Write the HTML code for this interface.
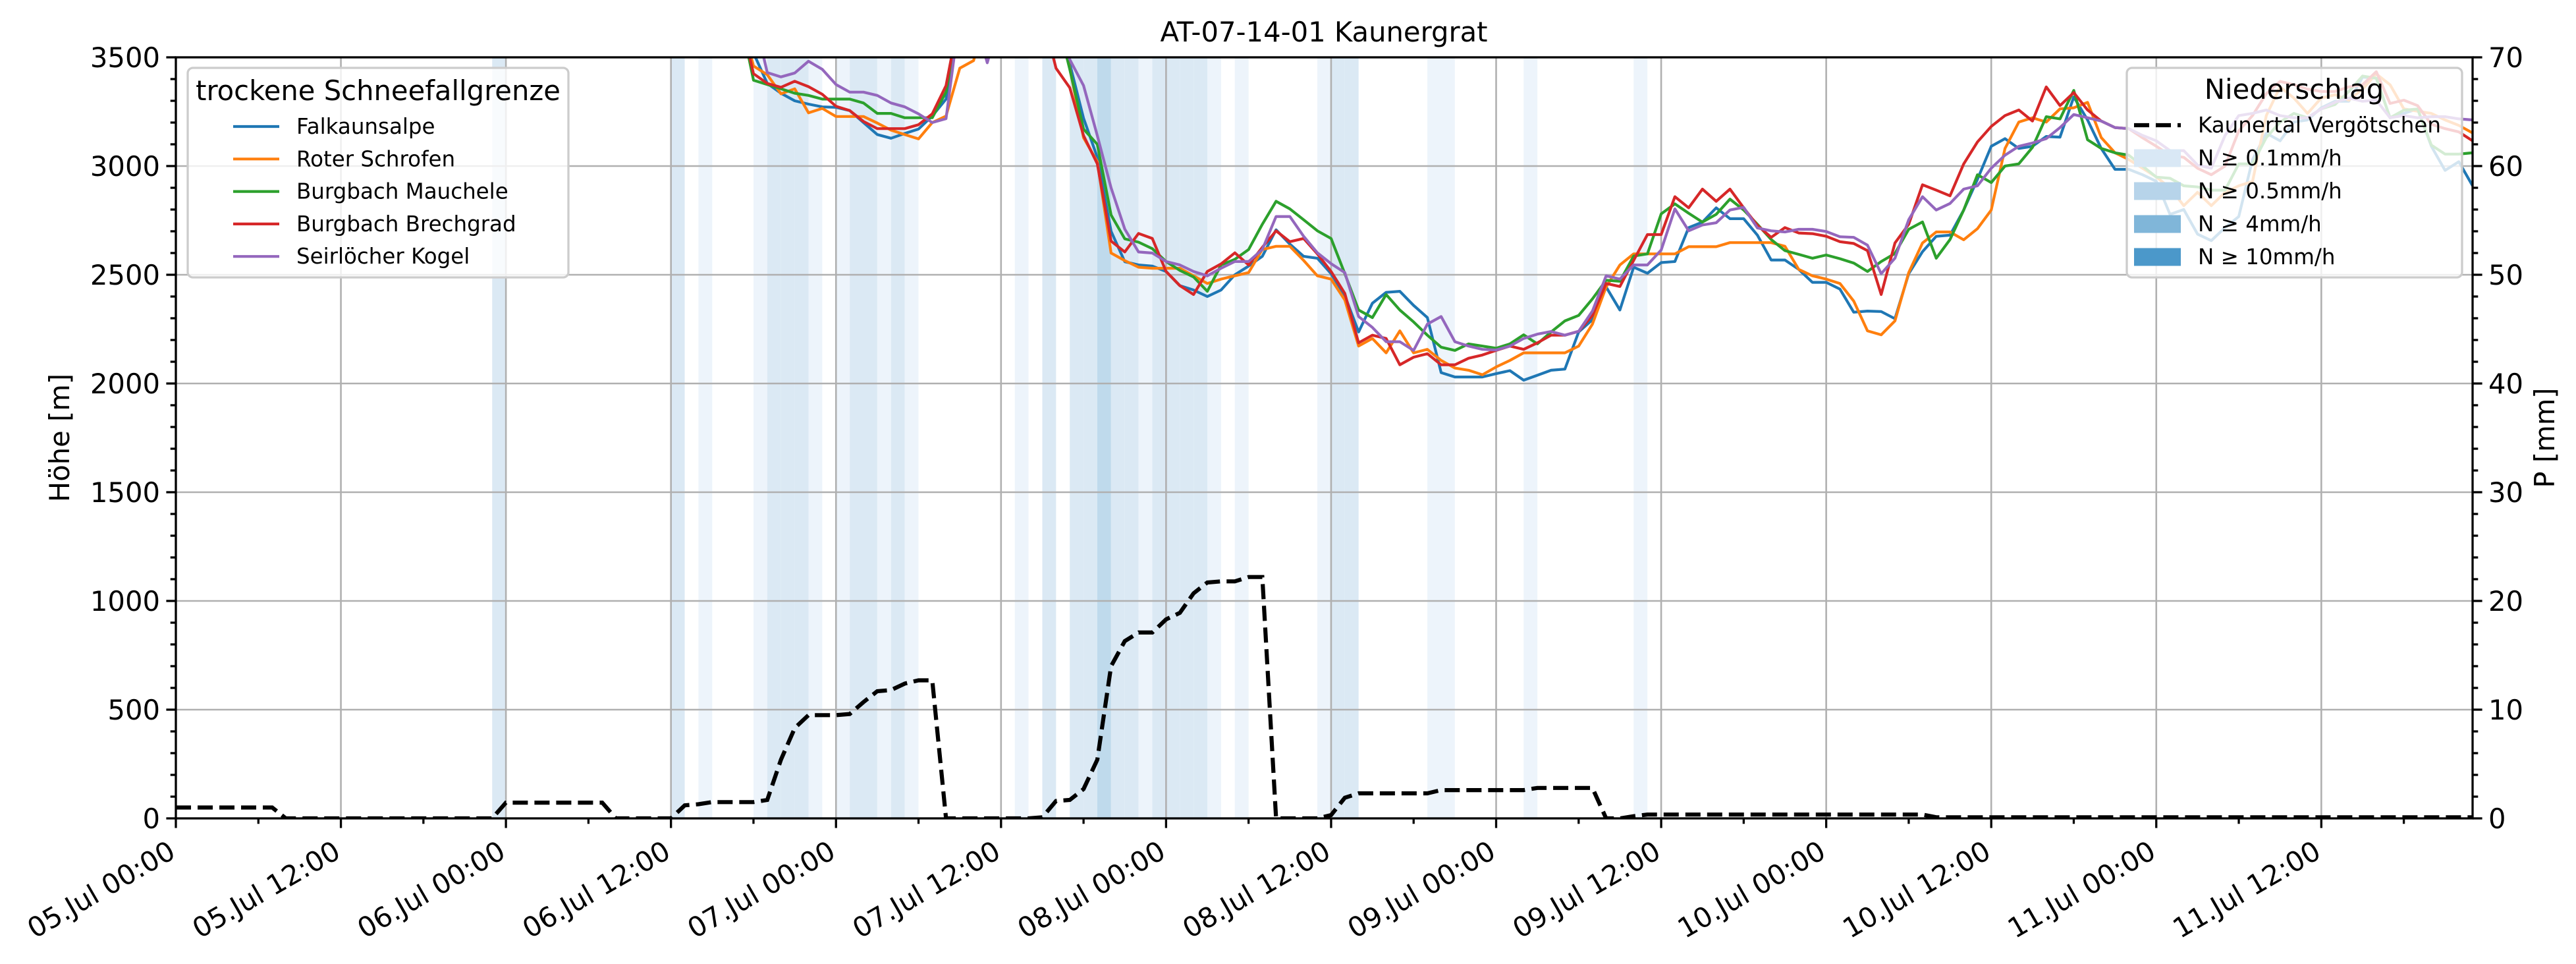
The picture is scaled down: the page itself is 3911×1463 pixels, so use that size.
<!DOCTYPE html>
<html><head><meta charset="utf-8"><title>AT-07-14-01 Kaunergrat</title>
<style>html,body{margin:0;padding:0;background:#fff}svg{display:block}text{font-family:"DejaVu Sans","Liberation Sans",sans-serif}</style>
</head><body>
<svg id="chart" xmlns="http://www.w3.org/2000/svg" width="3911" height="1463" viewBox="0 0 3911 1463">
<rect width="3911" height="1463" fill="#fff"/>
<defs><clipPath id="plotclip"><rect x="267" y="87" width="3487" height="1155"/></clipPath></defs>
<g id="bands" clip-path="url(#plotclip)"></g>
<g id="grid"></g>
<g id="series" clip-path="url(#plotclip)"></g>
<g id="precip" clip-path="url(#plotclip)"></g>
<g id="axes"></g>
<text x="2010" y="63" font-size="41.7" text-anchor="middle">AT-07-14-01 Kaunergrat</text>
<text transform="translate(105,664.5) rotate(-90)" font-size="41.7" text-anchor="middle">Höhe [m]</text>
<text transform="translate(3878,664.5) rotate(-90)" font-size="41.7" text-anchor="middle">P [mm]</text>
<g id="legend1"></g>
<g id="legend2"></g>
</svg>
<script>
// ---- data ----
const startHour = 41; // series arrays begin at this hour (hourly values)
const falkaunsalpe = [3700,3520,3380,3335,3300,3285,3272,3270,3255,3200,3145,3128,3150,3170,3230,3308,
3700,3700,3700,3700,3700,3700,3700,3600,
3470,3220,3040,2700,2560,2545,2540,2515,2450,2430,2400,2430,2500,2540,2585,2707,2641,2585,2576,2505,2404,2237,2369,2419,2424,2359,2303,2050,2030,
2030,2030,2045,2059,2015,2038,2061,2066,2237,2293,2444,2338,2535,2507,2556,2561,2717,2742,2808,2758,2758,2682,2568,2568,2525,2465,2465,2434,2328,2333,2331,2298,2505,
2606,2677,2682,2798,2939,3091,3126,3081,3091,3136,3133,3318,3212,3081,2985,2985,2960,2930,2778,2800,2687,2657,2717,2768,3030,3151,3116,3202,3212,3268,3298,3298,3409,3404,3222,3242,3263,3091,2980,3020,2909];
const roterSchrofen = [3700,3460,3420,3332,3355,3245,3265,3228,3228,3228,3198,3165,3145,3125,3200,3230,
3450,3485,3700,3700,3700,3700,3700,3700,
3450,3130,3020,2600,2565,2535,2530,2530,2530,2495,2460,2480,2495,2510,2616,2631,2631,2566,2495,2480,2384,2172,2207,2141,2242,2141,2157,2106,2071,
2061,2040,2076,2106,2141,2141,2141,2141,2172,2273,2444,2545,2596,2596,2596,2596,2629,2629,2629,2648,2648,2648,2648,2631,2525,2495,2480,2460,2379,2242,2224,2288,2510,
2646,2697,2697,2661,2712,2798,3081,3202,3222,3202,3263,3268,3293,3131,3061,3030,2990,2950,2899,2818,2879,2818,2879,2909,2929,3232,3364,3313,3242,3313,3328,3303,3354,3424,3374,3263,3252,3242,3212,3187,3152];
const burgbachMauchele = [3700,3395,3375,3355,3335,3325,3308,3308,3308,3290,3242,3242,3222,3222,3222,3340,
3700,3700,3700,3700,3700,3700,3700,3700,
3445,3170,3100,2775,2665,2650,2620,2561,2520,2490,2424,2545,2571,2616,2732,2838,2803,2753,2702,2667,2505,2338,2303,2409,2338,2283,2222,2167,2152,
2182,2172,2162,2182,2224,2182,2237,2288,2313,2389,2475,2470,2586,2596,2780,2826,2783,2742,2778,2848,2798,2732,2662,2611,2594,2576,2591,2574,2554,2515,2561,2598,2709,
2743,2576,2662,2798,2960,2924,3000,3010,3086,3227,3217,3348,3121,3081,3061,3050,3000,2949,2944,2909,2904,2889,2889,3010,3010,3131,3202,3242,3222,3263,3283,3343,3414,3404,3222,3257,3262,3096,3055,3055,3061];
const burgbachBrechgrad = [3700,3425,3380,3362,3390,3365,3330,3275,3255,3205,3172,3172,3172,3190,3240,3370,
3700,3700,3700,3700,3700,3700,3700,3450,
3360,3140,3010,2655,2605,2690,2667,2515,2450,2409,2515,2550,2601,2545,2626,2702,2652,2667,2596,2515,2414,2187,2222,2207,2086,2121,2137,2086,2086,
2116,2131,2152,2172,2157,2187,2222,2222,2240,2313,2460,2446,2566,2685,2685,2859,2808,2894,2838,2894,2808,2727,2672,2717,2692,2689,2677,2652,2644,2611,2409,2646,2732,
2914,2889,2863,3010,3111,3182,3232,3258,3207,3364,3278,3338,3258,3207,3177,3172,3130,3091,3050,3040,2990,2960,3000,3162,3232,3333,3389,3374,3354,3343,3343,3364,3374,3434,3288,3303,3278,3192,3172,3157,3116];
const seirloecherKogel = [3700,3700,3430,3410,3428,3482,3445,3375,3340,3340,3325,3290,3272,3240,3200,3218,
3700,3700,3475,3700,3700,3700,3700,3700,
3490,3370,3140,2900,2710,2605,2600,2561,2545,2515,2495,2530,2561,2561,2616,2768,2768,2677,2601,2551,2510,2308,2258,2192,2192,2152,2273,2308,2192,
2172,2157,2154,2172,2207,2227,2239,2222,2240,2333,2495,2480,2545,2545,2614,2803,2702,2729,2739,2798,2810,2715,2702,2697,2709,2709,2699,2675,2672,2636,2505,2576,2753,
2859,2798,2828,2894,2909,2990,3050,3091,3106,3126,3177,3237,3222,3207,3177,3172,3141,3116,3071,3071,3005,2990,3141,3232,3242,3258,3232,3222,3222,3263,3293,3313,3298,3303,3222,3232,3222,3227,3227,3217,3212];
// cumulative precipitation Kaunertal Vergötschen [mm], hours 0..167
const precip = [1,1,1,1,1,1,1,1, 0,0,0,0,0,0,0,0,0,0,0,0,0,0,0,0, 1.45,1.45,1.45,1.45,1.45,1.45,1.45,1.45, 0,0,0,0,
0,1.2,1.3,1.5,1.5,1.5,1.5,1.7,5.4,8.3,9.5,9.5,9.5,9.6,10.7,11.7,11.8,12.4,12.7,12.7,
0,0,0,0,0,0,0,
0.1,1.6,1.7,2.7,5.4,14,16.3,17.1,17.1,18.3,18.9,20.7,21.7,21.8,21.8,22.2,
22.2,0,0,0,0, 0.3,1.9,2.3, 2.3,2.3,2.3,2.3,2.3, 2.6,2.6,2.6,2.6,2.6,2.6,2.6, 2.8,2.8,2.8,2.8,2.8, 0,0,0.2,
0.35,0.35,0.35,0.35,0.35,0.35,0.35,0.35,0.35,0.35,0.35,0.35,0.35,0.35,0.35,0.35,0.35,0.35,0.35,0.35,0.35,
0.1,0.1,0.1,0.1,0.1,0.1,0.1,0.1,0.1,0.1,0.1,0.1,0.1,0.1,0.1,0.1,0.1,0.1,0.1,0.1,0.1,0.1,0.1,0.1,0.1,0.1,0.1,0.1,0.1,0.1,0.1,0.1,0.1,0.1,0.1,0.1,0.1,0.1,0.1,0.1];
// hourly intensity bands: hour and class (1: >=0.1, 2: >=0.5, 3: >=4 mm/h)
const bandHours = [23,36,38,42,43,44,45,46,48,49,50,51,52,53,61,63,65,66,67,68,69,70,71,72,73,74,75,77,83,84,85,91,92,98,106];
const bandClass = [2,2,1,1,2,2,2,1,1,2,2,1,2,1,1,2,2,2,3,2,2,1,2,2,2,2,1,1,1,2,2,1,1,1,1];
const xTickLabels = ["05.Jul 00:00","05.Jul 12:00","06.Jul 00:00","06.Jul 12:00","07.Jul 00:00","07.Jul 12:00","08.Jul 00:00","08.Jul 12:00","09.Jul 00:00","09.Jul 12:00","10.Jul 00:00","10.Jul 12:00","11.Jul 00:00","11.Jul 12:00"];
const yTicks = [0,500,1000,1500,2000,2500,3000,3500];
const y2Ticks = [0,10,20,30,40,50,60,70];
const seriesNames = ["Falkaunsalpe","Roter Schrofen","Burgbach Mauchele","Burgbach Brechgrad","Seirlöcher Kogel"];
const seriesColors = ["#1f77b4","#ff7f0e","#2ca02c","#d62728","#9467bd"];
const bandNames = ["N ≥ 0.1mm/h","N ≥ 0.5mm/h","N ≥ 4mm/h","N ≥ 10mm/h"];
const bandLegendColors = ["#d9e8f5","#b7d4ea","#80b6d9","#4b98ca"];
const bandColors = ["#edf4fb","#dbe9f4","#bfdaec","#a5cbe4"];

// ---- axes ----
const X0=267, X1=3754, Y0=1242, Y1=87, HMAX=167;
const xOf = h => X0 + h*(X1-X0)/HMAX;
const yL = v => Y0 - v*(Y0-Y1)/3500;
const yR = p => Y0 - p*(Y0-Y1)/70;
const NS="http://www.w3.org/2000/svg";
function mk(tag, attrs, parent){const e=document.createElementNS(NS,tag);for(const k in attrs)e.setAttribute(k,attrs[k]);parent.appendChild(e);return e;}

const gB=document.getElementById('bands');
bandHours.forEach((h,i)=>{
  const r=mk('rect',{x:xOf(h),y:Y1,width:xOf(h+1)-xOf(h),height:Y0-Y1,fill:bandColors[bandClass[i]-1]},gB);
  
  
});

const gG=document.getElementById('grid');
xTickLabels.forEach((t,i)=>{
  const l=mk('line',{x1:xOf(i*12),x2:xOf(i*12),y1:Y1,y2:Y0,stroke:'#b0b0b0','stroke-width':2.6},gG);
  
  
});
yTicks.forEach(v=>{
  const l=mk('line',{x1:X0,x2:X1,y1:yL(v),y2:yL(v),stroke:'#b0b0b0','stroke-width':2.6},gG);
  
  
});

const gS=document.getElementById('series');
[falkaunsalpe,roterSchrofen,burgbachMauchele,burgbachBrechgrad,seirloecherKogel].forEach((arr,si)=>{
  const pts=arr.map((v,i)=>xOf(startHour+i).toFixed(1)+','+yL(v).toFixed(1)).join(' ');
  const p=mk('polyline',{points:pts,fill:'none',stroke:seriesColors[si],'stroke-width':4.2,'stroke-linejoin':'round'},gS);
  
  
});

const gP=document.getElementById('precip');
const pp=mk('polyline',{points:precip.map((v,i)=>xOf(i).toFixed(1)+','+yR(v).toFixed(1)).join(' '),fill:'none',stroke:'#000','stroke-width':6.2,'stroke-dasharray':'23 10'},gP);



const gA=document.getElementById('axes');
mk('rect',{x:X0,y:Y1,width:X1-X0,height:Y0-Y1,fill:'none',stroke:'#000','stroke-width':3.3},gA);
for(let v=0;v<=3500;v+=100){
  const major=v%500===0;
  mk('line',{x1:X0,x2:X0-(major?14.6:8.3),y1:yL(v),y2:yL(v),stroke:'#000','stroke-width':3.3},gA);
}
for(let p=0;p<=70;p+=2){
  const major=p%10===0;
  mk('line',{x1:X1,x2:X1+(major?14.6:8.3),y1:yR(p),y2:yR(p),stroke:'#000','stroke-width':3.3},gA);
}
for(let h=0;h<=HMAX;h+=6){
  const major=h%12===0;
  mk('line',{x1:xOf(h),x2:xOf(h),y1:Y0,y2:Y0+(major?14.6:8.3),stroke:'#000','stroke-width':3.3},gA);
}
yTicks.forEach(v=>{
  const t=mk('text',{x:X0-24,y:yL(v)+15,'font-size':41.7,'text-anchor':'end'},gA);
  t.textContent=v;
  
  
});
y2Ticks.forEach(p=>{
  const t=mk('text',{x:X1+24,y:yR(p)+15,'font-size':41.7,'text-anchor':'start'},gA);
  t.textContent=p;
  
  
});
xTickLabels.forEach((s,i)=>{
  const x=xOf(i*12);
  const t=mk('text',{transform:'translate('+(x+2)+','+(Y0+58)+') rotate(-30)','font-size':41.7,'text-anchor':'end'},gA);
  t.textContent=s;
  
  
});

// ---- legends ----
const L1=document.getElementById('legend1');
mk('rect',{x:285,y:103,width:578,height:318,rx:8,fill:'#fff','fill-opacity':0.8,stroke:'#cccccc','stroke-width':3.3},L1);
const t1=mk('text',{x:574,y:152,'font-size':41.7,'text-anchor':'middle'},L1);
t1.textContent='trockene Schneefallgrenze';
seriesNames.forEach((n,i)=>{
  const y=192+i*49.3;
  const ln=mk('line',{x1:354,x2:424,y1:y,y2:y,stroke:seriesColors[i],'stroke-width':4.2},L1);
  
  
  const t=mk('text',{x:450,y:y+11,'font-size':32.5},L1);
  t.textContent=n;
  
  
});
const L2=document.getElementById('legend2');
mk('rect',{x:3229,y:103,width:509,height:318,rx:8,fill:'#fff','fill-opacity':0.8,stroke:'#cccccc','stroke-width':3.3},L2);
const t2=mk('text',{x:3483,y:150,'font-size':41.7,'text-anchor':'middle'},L2);
t2.textContent='Niederschlag';
const dl=mk('line',{x1:3240,x2:3311,y1:190,y2:190,stroke:'#000','stroke-width':6.2,'stroke-dasharray':'23 10'},L2);


const tk=mk('text',{x:3337,y:201,'font-size':32.5},L2);
tk.textContent='Kaunertal Vergötschen';


bandNames.forEach((n,i)=>{
  const y=240+i*50;
  const r=mk('rect',{x:3240,y:y-13.5,width:71,height:27,fill:bandLegendColors[i]},L2);
  
  
  const t=mk('text',{x:3337,y:y+11,'font-size':32.5},L2);
  t.textContent=n;
  
  
});
</script>
</body></html>
